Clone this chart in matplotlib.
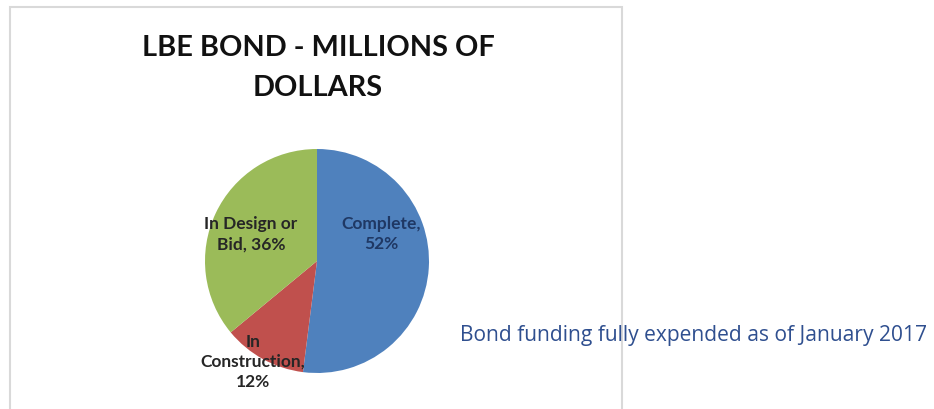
import matplotlib.pyplot as plt
from matplotlib.patches import Rectangle

# Data
categories = ["Complete", "In Construction", "In Design or Bid"]
shares = [52, 12, 36]
colors = ["#4F81BD", "#C0504D", "#9BBB59"]

plt.rcParams['font.family'] = ['Lato', 'DejaVu Sans']

fig = plt.figure(figsize=(9.34, 4.09), dpi=100)

# Chart border box
fig.patches.append(Rectangle((10 / 934, -0.01), 612 / 934, 1 - 7 / 409 + 0.01,
                             transform=fig.transFigure, fill=False,
                             ec="#d9d9d9", lw=1.5, zorder=0))

fig.text(318 / 934, 1 - 68 / 409, "LBE BOND - MILLIONS OF\nDOLLARS",
         ha="center", va="center", fontsize=20.8, fontweight="bold",
         color="#111111", linespacing=1.62)

# Pie axes: center (317, 261), radius 112 px
r = 112
ax = fig.add_axes([(317 - r) / 934, (409 - 261 - r) / 409, 2 * r / 934, 2 * r / 409])
wedges, _ = ax.pie(shares, colors=colors, startangle=90, counterclock=False,
                   radius=1.0, wedgeprops=dict(linewidth=0))
ax.set_xlim(-1, 1)
ax.set_ylim(-1, 1)
ax.set_aspect("auto")

labels = [f"{c},\n{s}%" for c, s in zip(categories, shares)]
labels[1] = f"In\nConstruction,\n{shares[1]}%"
labels[2] = f"In Design or\nBid, {shares[2]}%"
label_pos = [(0.57, 0.24), (-0.57, -0.90), (-0.59, 0.24)]
label_col = ["#1F3864", "#262626", "#262626"]
for txt, (x, y), c in zip(labels, label_pos, label_col):
    ax.text(x, y, txt, ha="center", va="center", fontsize=12.5,
            fontweight="bold", color=c, linespacing=1.3)

fig.text(460 / 934, 1 - 336 / 409, "Bond funding fully expended as of January 2017",
         ha="left", va="center", fontsize=15.1, color="#2F4F8F",
         family=["Open Sans", "DejaVu Sans"])

fig.savefig("out.png", dpi=100, facecolor="white")
